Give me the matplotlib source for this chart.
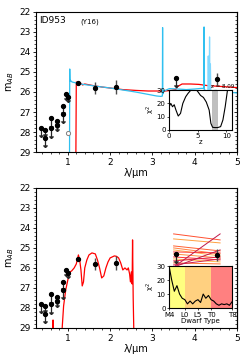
import numpy as np
import matplotlib
matplotlib.use("Agg")
import matplotlib.pyplot as plt
from matplotlib.ticker import MultipleLocator

# photometry: wavelength, magnitude, error, upper limit flag
phot_lam = [0.37, 0.465, 0.465, 0.61, 0.61, 0.74, 0.74, 0.88, 0.88, 0.96, 1.0,
            1.24, 1.64, 2.13, 3.56, 4.52]
phot_mag = [27.78, 27.92, 28.3, 27.28, 27.8, 27.47, 27.67, 26.68, 27.08, 26.1, 26.23,
            25.55, 25.8, 25.77, 25.28, 25.37]
phot_err = [0.45, 0.3, 0.45, 0.5, 0.5, 0.35, 0.3, 0.4, 0.45, 0.3, 0.25,
            0.12, 0.3, 0.35, 0.45, 0.3]
phot_ul = [1, 1, 1, 1, 1, 1, 1, 1, 1, 1, 1, 0, 0, 0, 1, 0]
open_lam = [1.0]
open_mag = [28.05]

# best-fit galaxy SED (z=8.09)
hz_lam = [1.04, 1.045, 1.05, 1.06, 1.1, 1.2, 1.3, 1.5, 1.7, 2.0, 2.3, 2.6, 2.9, 3.1, 3.2,
          3.235, 3.24, 3.245, 3.27, 3.4, 3.6, 3.8, 4.0, 4.15, 4.215, 4.22, 4.225,
          4.3, 4.5, 4.8, 5.0]
hz_mag = [29.2, 24.85, 25.45, 25.42, 25.5, 25.55, 25.6, 25.66, 25.72, 25.8, 25.9, 26.0,
          26.12, 26.2, 26.22, 26.2, 22.78, 26.1, 25.95, 25.83, 25.85, 25.88, 25.85, 25.82,
          25.82, 22.75, 25.9, 25.95, 25.92, 26.0, 26.05]
line_lam = [4.31, 4.32, 4.33, 4.34, 4.35, 4.36, 4.37, 4.38]
line_mag = [25.9, 24.2, 25.9, 25.9, 23.25, 25.9, 24.6, 25.9]

# low-z alternative SED
lz_lam = [1.19, 1.2, 1.21, 1.25, 1.3, 1.35, 1.4, 1.6, 1.8, 2.0, 2.3, 2.6, 2.9, 3.1, 3.3,
          3.45, 3.55, 3.6, 3.7, 3.9, 4.1, 4.3, 4.6, 5.0]
lz_mag = [29.2, 25.5, 25.55, 25.6, 25.55, 25.65, 25.6, 25.68, 25.75, 25.8, 25.88, 25.92,
          25.95, 25.95, 25.95, 25.92, 25.88, 25.72, 25.6, 25.6, 25.62, 25.68, 25.72, 25.78]

# chi2 vs redshift
z_grid = [0.0, 0.3, 0.6, 0.9, 1.2, 1.6, 2.0, 2.4, 2.9, 3.3, 3.8, 4.4, 5.0, 5.5, 6.0, 6.5,
          7.0, 7.3, 7.6, 8.0, 8.5, 9.0, 9.4, 9.8, 10.2, 10.5]
chi2_z = [17.5, 20, 17.5, 19, 15, 10.5, 12.5, 20, 25, 27.5, 30, 32, 29, 26, 24.5, 21,
          15, 5, 2, 1.8, 1.8, 2.5, 7.5, 17.5, 30, 36]
z_best = 8.09

# brown dwarf template
bd_lam = [0.64, 0.65, 0.66, 0.67, 0.86, 0.9, 0.95, 1.0, 1.05, 1.09, 1.15, 1.2, 1.25, 1.28,
          1.31, 1.34, 1.37, 1.4, 1.45, 1.5, 1.57, 1.65, 1.7, 1.75, 1.8, 1.85, 1.9, 1.95,
          2.0, 2.1, 2.15, 2.2, 2.25, 2.3, 2.35, 2.4, 2.43, 2.46, 2.48, 2.5, 2.52, 2.53,
          2.545, 2.56]
bd_mag = [29.2, 28.6, 29.2, 29.2, 29.2, 27.9, 27.1, 26.6, 26.2, 26.15, 26.0, 25.8, 25.35,
          25.6, 26.1, 26.9, 26.7, 26.0, 25.6, 25.35, 25.25, 25.3, 25.6, 26.0, 26.5, 26.4,
          26.0, 25.7, 25.5, 25.4, 25.42, 25.5, 25.75, 26.1, 26.0, 26.1, 26.0, 26.3, 26.7,
          26.2, 26.8, 24.6, 27.5, 29.2]

# dwarf photometry lines (3.5 -> 4.6 um)
dw_left = [24.3, 24.55, 24.9, 25.0, 25.1, 25.2, 25.3, 25.45, 25.55, 25.65, 25.75, 25.85,
           25.96, 25.96]
dw_right = [24.6, 24.75, 25.15, 25.3, 25.4, 25.25, 25.5, 25.6, 25.7, 25.45, 25.8, 25.55,
            24.3, 25.1]
dw_col = ["#ff5030", "#ffa040", "#ff6030", "#ff8040", "#ffb050", "#ff4040", "#ff9040",
          "#ff3030", "#ffc050", "#e02040", "#ff7030", "#d02050", "#c0184a", "#c0184a"]

# chi2 vs dwarf type
sp_idx = list(range(25))
chi2_sp = [30, 20, 12, 16, 10, 7, 6, 3, 5, 3, 5, 6, 4, 10, 7, 9, 6, 5, 3, 2, 3, 2.5, 3,
           2, 4.5]
sp_ticks = [0, 6, 11, 16, 24]
sp_labels = ["M4", "L0", "L5", "T0", "T8"]

plt.rcParams["font.family"] = "DejaVu Sans"
fig = plt.figure(figsize=(2.49, 3.62), dpi=100)


def style_main(ax):
    ax.set_xlim(0.25, 5)
    ax.set_ylim(29, 22)
    ax.xaxis.set_major_locator(MultipleLocator(1))
    ax.xaxis.set_minor_locator(MultipleLocator(0.2))
    ax.yaxis.set_major_locator(MultipleLocator(1))
    ax.yaxis.set_minor_locator(MultipleLocator(0.2))
    ax.tick_params(labelsize=6.5, length=2.5, width=0.6, pad=1.5)
    ax.tick_params(which="minor", length=1.5, width=0.5)
    sec = ax.secondary_yaxis("right")
    sec.yaxis.set_major_locator(MultipleLocator(1))
    sec.yaxis.set_minor_locator(MultipleLocator(0.2))
    sec.tick_params(direction="in", labelright=False, length=2.5, width=0.6)
    sec.tick_params(which="minor", direction="in", length=1.5, width=0.5)
    ax.set_xlabel("λ/μm", fontsize=7, labelpad=1)
    ax.set_ylabel("m$_{AB}$", fontsize=7, labelpad=2)
    for s in ax.spines.values():
        s.set_linewidth(0.8)


def draw_phot(ax):
    lam = np.array(phot_lam)
    mag = np.array(phot_mag)
    err = np.array(phot_err)
    ul = np.array(phot_ul, dtype=bool)
    # detections
    ax.errorbar(lam[~ul], mag[~ul], yerr=err[~ul], fmt="o", color="black", ms=2.8,
                ecolor="0.3", elinewidth=1, zorder=5)
    # upper limits: bar + arrow head
    ax.vlines(lam[ul], mag[ul], mag[ul] + err[ul], color="0.15", lw=0.9, zorder=4)
    ax.plot(lam[ul], mag[ul] + err[ul], ls="none", marker=7, ms=2.2, color="0.15", zorder=4)
    ax.plot(lam[ul], mag[ul], "o", color="black", ms=2.8, zorder=5)


# top panel
ax1 = fig.add_axes([0.145, 0.58, 0.807, 0.387])
ax1.plot(lz_lam, lz_mag, color="red", lw=0.9)
ax1.plot(hz_lam, hz_mag, color="#30c0f0", lw=0.9)
ax1.plot(line_lam, line_mag, color="#80d8ff", lw=0.9)
draw_phot(ax1)
ax1.plot(open_lam, open_mag, "o", mfc="white", mec="0.5", ms=3, mew=0.7, zorder=5)
ax1.text(0.32, 22.45, "ID953", fontsize=6.5, va="center")
ax1.text(1.3, 22.5, "(Y16)", fontsize=5, va="center")
style_main(ax1)

ins1 = fig.add_axes([0.679, 0.641, 0.253, 0.11])
ins1.axvspan(7.5, 8.5, color="0.75", lw=0)
ins1.plot(z_grid, chi2_z, color="black", lw=0.8)
ins1.set_xlim(0, 11)
ins1.set_ylim(0, 30)
ins1.set_xticks([0, 5, 10])
ins1.set_yticks([0, 10, 20, 30])
ins1.tick_params(labelsize=5, length=1.5, width=0.5, pad=1)
ins1.set_xlabel("z", fontsize=5, labelpad=0)
ins1.set_ylabel("χ$^2$", fontsize=5, labelpad=0)
ins1.text(7.3, 31, "z = %.2f" % z_best, fontsize=4, va="bottom")

# bottom panel
ax2 = fig.add_axes([0.145, 0.094, 0.807, 0.387])
for l, r, c in zip(dw_left, dw_right, dw_col):
    ax2.plot([3.5, 4.6], [l, r], color=c, lw=0.7)
ax2.plot(bd_lam, bd_mag, color="red", lw=0.9)
draw_phot(ax2)
style_main(ax2)

ins2 = fig.add_axes([0.679, 0.149, 0.253, 0.116])
ins2.axvspan(0, 6, color="#ffff80", lw=0)
ins2.axvspan(6, 16, color="#ffd080", lw=0)
ins2.axvspan(16, 24, color="#ff8080", lw=0)
ins2.plot(sp_idx, chi2_sp, color="black", lw=0.8)
ins2.set_xlim(0, 24)
ins2.set_ylim(0, 30)
ins2.set_xticks(sp_ticks)
ins2.set_xticklabels(sp_labels)
ins2.set_yticks([0, 10, 20, 30])
ins2.tick_params(labelsize=5, length=1.5, width=0.5, pad=1)
ins2.set_xlabel("Dwarf Type", fontsize=5, labelpad=0)
ins2.set_ylabel("χ$^2$", fontsize=5, labelpad=0)

fig.savefig("out.png", dpi=100)
